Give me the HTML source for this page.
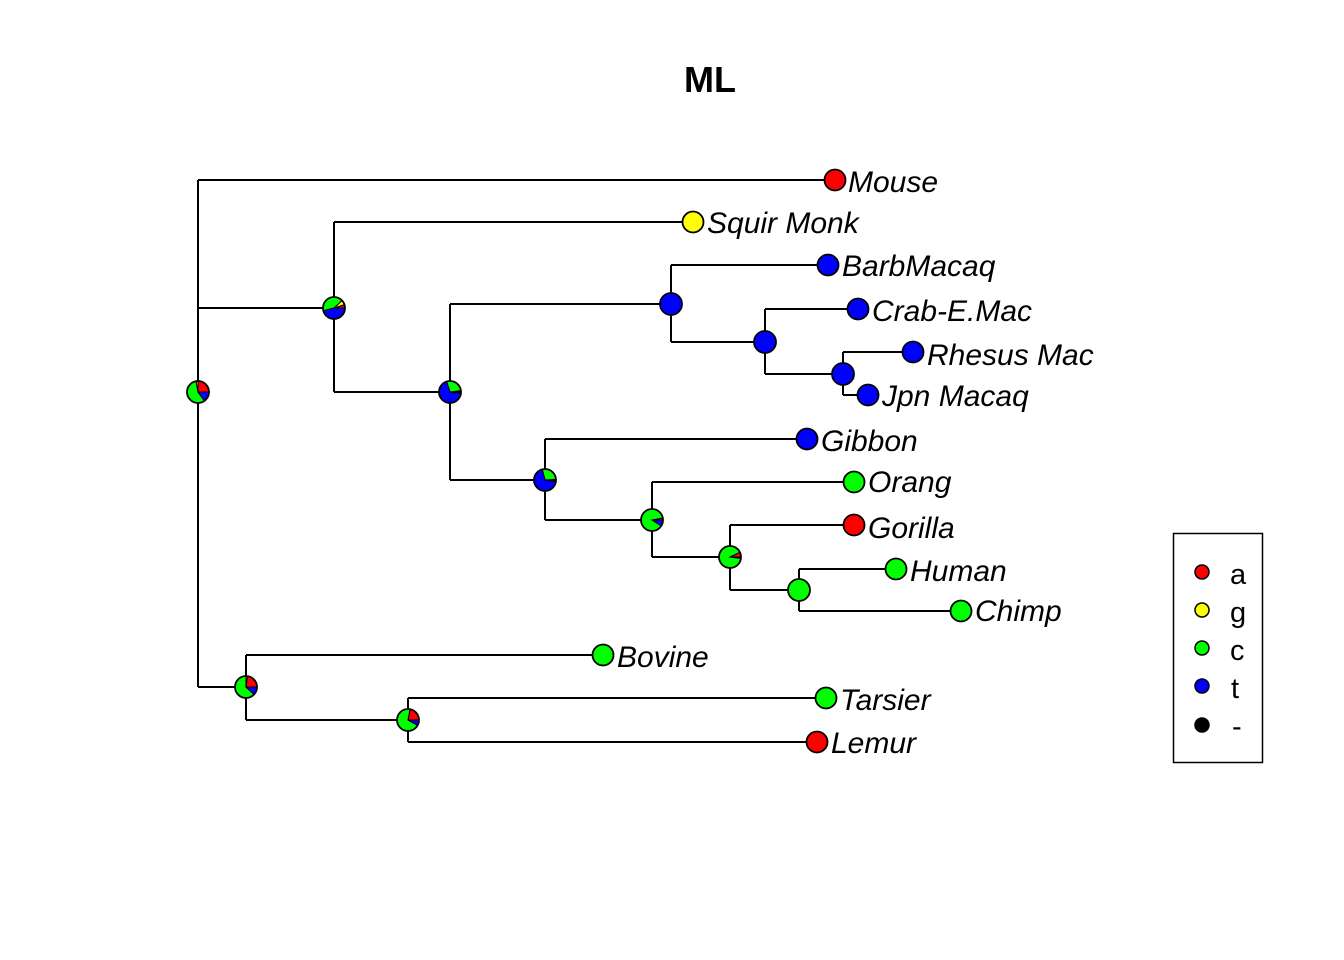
<!DOCTYPE html>
<html><head><meta charset="utf-8"><style>
html,body{margin:0;padding:0;background:#fff;}
svg{display:block;}
.l{font-family:"Liberation Sans",sans-serif;font-style:italic;font-size:30px;}
.g{font-family:"Liberation Sans",sans-serif;font-size:29px;}
</style></head><body>
<svg id="s" width="1344" height="960" xmlns="http://www.w3.org/2000/svg">
<rect width="1344" height="960" fill="#fff"/>
<text x="710" y="92" text-anchor="middle" font-family="Liberation Sans, sans-serif" font-weight="bold" font-size="36">ML</text>
<g stroke="#000" stroke-width="2" fill="none">
<path d="M198 180V687M198 180H835M198 308H334M198 687H246
M334 222V392M334 222H693M334 392H450
M450 304V480M450 304H671M450 480H545
M671 265V342M671 265H828M671 342H765
M765 309V374M765 309H858M765 374H843
M843 352V395M843 352H913M843 395H868
M545 439V520M545 439H807M545 520H652
M652 482V557M652 482H854M652 557H730
M730 525V590M730 525H854M730 590H799
M799 569V611M799 569H896M799 611H961
M246 655V720M246 655H603M246 720H408
M408 698V742M408 698H826M408 742H817"/>
</g>
<g id="pies"></g>
<g class="l">
<text x="848" y="192">Mouse</text>
<text x="707" y="233">Squir Monk</text>
<text x="842" y="276">BarbMacaq</text>
<text x="872" y="321">Crab-E.Mac</text>
<text x="927" y="365">Rhesus Mac</text>
<text x="882" y="406">Jpn Macaq</text>
<text x="821" y="451">Gibbon</text>
<text x="868" y="492">Orang</text>
<text x="868" y="538">Gorilla</text>
<text x="910" y="581">Human</text>
<text x="975" y="621">Chimp</text>
<text x="617" y="667">Bovine</text>
<text x="840" y="710">Tarsier</text>
<text x="831" y="753">Lemur</text>
</g>
<rect x="1173.5" y="533.5" width="89" height="229" fill="none" stroke="#000" stroke-width="1.5"/>
<g stroke="#000" stroke-width="1.5">
<circle cx="1202" cy="572" r="7" fill="#f00"/>
<circle cx="1202" cy="610" r="7" fill="#ff0"/>
<circle cx="1202" cy="648" r="7" fill="#0f0"/>
<circle cx="1202" cy="686" r="7" fill="#00f"/>
<circle cx="1202" cy="725" r="7" fill="#000"/>
</g>
<g class="g">
<text x="1230" y="584">a</text>
<text x="1230" y="622">g</text>
<text x="1230" y="660">c</text>
<text x="1231" y="698">t</text>
<text x="1232" y="736">-</text>
</g>
</svg>
<script>
var C=["#f00","#ff0","#0f0","#00f","#000"];
var P=[
[198,392,[.25,.03,.57,.15,0],11],
[334,308,[.05,.07,.42,.46,0],11],
[450,392,[.02,0,.28,.68,.02],11],
[545,480,[.01,0,.28,.69,.02],11],
[671,304,[0,0,0,1,0],11],[765,342,[0,0,0,1,0],11],[843,374,[0,0,0,1,0],11],
[652,520,[.03,0,.88,.09,0],11],
[730,557,[.07,0,.91,.02,0],11],
[799,590,[0,0,1,0,0],11],
[246,687,[.23,.02,.63,.12,0],11],
[408,720,[.22,0,.70,.08,0],11],
[835,180,[1,0,0,0,0],10.5],[693,222,[0,1,0,0,0],10.5],[828,265,[0,0,0,1,0],10.5],
[858,309,[0,0,0,1,0],10.5],[913,352,[0,0,0,1,0],10.5],[868,395,[0,0,0,1,0],10.5],
[807,439,[0,0,0,1,0],10.5],[854,482,[0,0,1,0,0],10.5],[854,525,[1,0,0,0,0],10.5],
[896,569,[0,0,1,0,0],10.5],[961,611,[0,0,1,0,0],10.5],[603,655,[0,0,1,0,0],10.5],
[826,698,[0,0,1,0,0],10.5],[817,742,[1,0,0,0,0],10.5]];
var h="";
P.forEach(function(p){var x=p[0],y=p[1],f=p[2],r=p[3],a=0;
f.forEach(function(v,i){if(v<=0)return;
if(v>=.999){h+='<circle cx="'+x+'" cy="'+y+'" r="'+r+'" fill="'+C[i]+'"/>';return;}
var a2=a+v*2*Math.PI;
var x1=x+r*Math.cos(a),y1=y-r*Math.sin(a),x2=x+r*Math.cos(a2),y2=y-r*Math.sin(a2);
h+='<path d="M'+x+' '+y+'L'+x1+' '+y1+'A'+r+' '+r+' 0 '+(v>.5?1:0)+' 0 '+x2+' '+y2+'Z" fill="'+C[i]+'" stroke="#000" stroke-width="1"/>';
a=a2;});
h+='<circle cx="'+x+'" cy="'+y+'" r="'+r+'" fill="none" stroke="#000" stroke-width="1.8"/>';});
document.getElementById("pies").innerHTML=h;
</script>
</body></html>
